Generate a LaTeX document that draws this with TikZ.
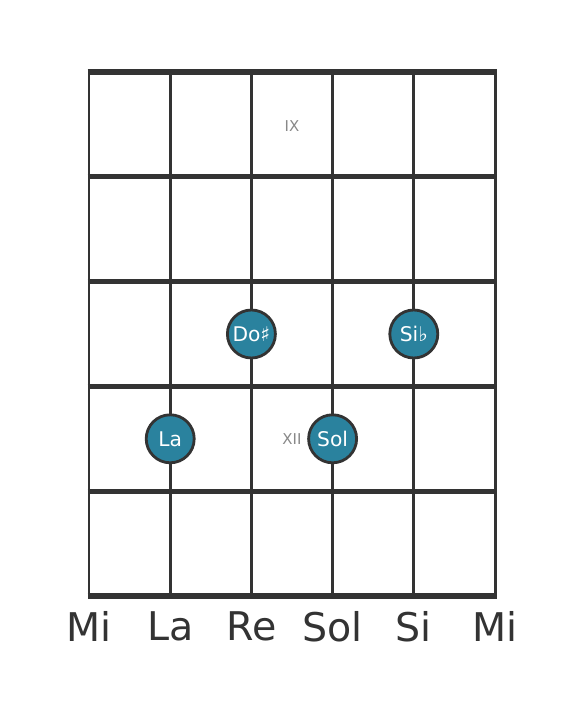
\documentclass[tikz,border=0pt]{standalone}
\usepackage{fontspec}
\setmainfont{DejaVu Sans}
\definecolor{dark}{RGB}{51,51,51}
\definecolor{notefill}{RGB}{42,130,158}
\definecolor{numgray}{RGB}{136,136,136}
\begin{document}
\begin{tikzpicture}[x=1.624cm, y=-2.096cm, note/.style={circle,fill=notefill,draw=dark,line width=1.6pt,minimum size=0.96cm,inner sep=0pt,text=white,font=\fontsize{11.5}{13}\selectfont}, fretnum/.style={text=numgray,font=\fontsize{8.5}{10}\selectfont}, strname/.style={text=dark,font=\fontsize{22.5}{26}\selectfont}]
       \useasboundingbox (-1.0961,-0.687) rectangle (6.0961,6.0973);
       % strings and frets
       \foreach \s in {0,...,5}{\draw[dark, line width=1.7pt] (\s,0) -- (\s,5); }
       \foreach \f in {0,...,5}{\draw[dark, line width=3pt, shorten <=-0.85pt, shorten >=-0.85pt] (0,\f) -- (5,\f); }

       \node[fretnum] (ix) at (2.5, 0.52) {IX};
       \node[fretnum] (xii) at (2.5, 3.5) {XII};

       \node[note] (dosharp) at (2, 2.5) {Do♯};
       \node[note] (siflat) at (4, 2.5) {Si♭};
       \node[note] (la) at (1, 3.5) {La};
       \node[note] (sol) at (3, 3.5) {Sol};

       \foreach \n/\s in {Mi/0, La/1, Re/2, Sol/3, Si/4}{\node[strname] (s\s) at (\s, 5.29) {\n}; }
       \node[strname] (s5) at (5, 5.29) {Mi};
     \end{tikzpicture}
\end{document}
